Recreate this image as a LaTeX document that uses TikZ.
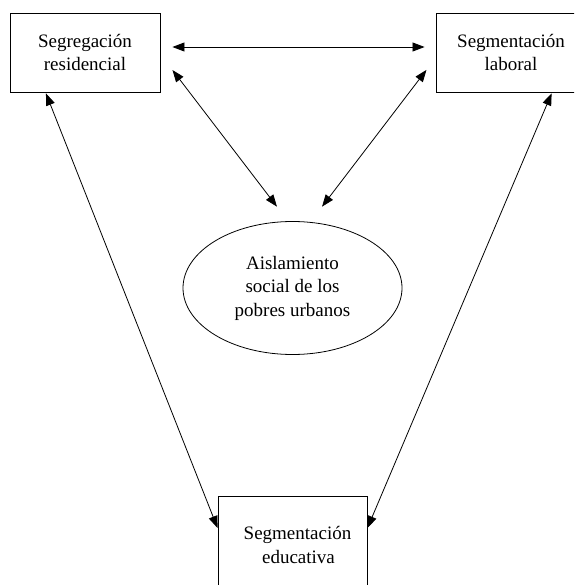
\documentclass[tikz,border=0pt]{standalone}
\usepackage{fontspec}
\setmainfont{Liberation Serif}
\usetikzlibrary{shapes.geometric,arrows.meta}
\begin{document}
\begin{tikzpicture}[x=1pt,y=-1pt,
  txt/.style={font=\fontsize{19}{23.5}\selectfont, align=center},
  boxnode/.style={txt, draw, line width=0.9pt, minimum width=150pt, minimum height=79pt, inner sep=0pt},
  ovalnode/.style={txt, draw, ellipse, line width=0.8pt, minimum width=219pt, minimum height=133pt, inner sep=0pt},
  link/.style={{Triangle[length=12pt,width=9pt]}-{Triangle[length=12pt,width=9pt]}, line width=0.8pt}]
\useasboundingbox (0,0) rectangle (574,585);
\clip (0,0) rectangle (574,585);
\node[boxnode] (res) at (85,52.5) {Segregación\\residencial};
\node[boxnode] (lab) at (511,52.5) {Segmentación\\laboral};
\node[boxnode, minimum width=149pt, minimum height=98pt] (edu) at (292.5,545) {\hspace{10pt}Segmentación\\\hspace{12pt}educativa};
\node[ovalnode] (ais) at (292.5,288) {Aislamiento\\social de los\\pobres urbanos};
\draw[link, shorten <=12pt, shorten >=11pt] ([yshift=5.5pt]res.east) -- ([yshift=5.5pt]lab.west);
\draw[link, shorten <=19.8pt, shorten >=18.2pt] ([yshift=-1.8pt]res.east) -- ([xshift=-4.5pt]ais.north);
\draw[link, shorten <=15pt, shorten >=18.2pt] ([yshift=-5.5pt]lab.west) -- ([xshift=18.5pt]ais.north);
\draw[link, shorten <=1pt] ([xshift=-39.4pt]res.south) -- ([yshift=17pt]edu.west);
\draw[link, shorten <=1pt] ([xshift=41pt]lab.south) -- ([yshift=17pt]edu.east);
\end{tikzpicture}
\end{document}
